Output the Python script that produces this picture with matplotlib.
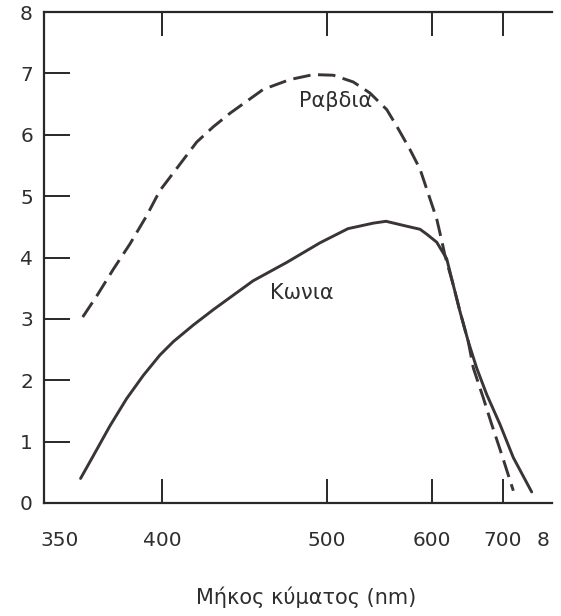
import numpy as np
import matplotlib
matplotlib.use("Agg")
import matplotlib.pyplot as plt
from matplotlib.ticker import NullLocator
from matplotlib.transforms import ScaledTranslation

plt.rcParams['font.family'] = ['DejaVu Sans']

# Wavelength axis is drawn on a non-linear (roughly reciprocal) scale:
# marked wavelengths and their relative spacing along the axis.
wl_marks = [350, 400, 500, 600, 700, 800]
wl_spacing = [0, 118, 283, 388, 459, 513]
x_tick_labels = ['350', '400', '500', '600', '700', '8']

# Cone (photopic) sensitivity curve
cone_wl = [365.5, 370.9, 378.0, 385.0, 392.1, 399.1, 406.9, 419.0, 431.1,
           455.2, 475.6, 495.8, 520.0, 544.1, 556.2, 575.9,
           588.6, 595.0, 606.6, 620.7, 630.0, 639.4, 651.1, 662.9, 677.0,
           695.8, 719.1, 753.1]
cone_val = [0.40, 0.77, 1.26, 1.70, 2.08, 2.41, 2.63, 2.90, 3.15,
            3.62, 3.92, 4.24, 4.47, 4.56, 4.59, 4.51,
            4.46, 4.38, 4.25, 3.98, 3.55, 3.12, 2.63, 2.20, 1.77,
            1.28, 0.74, 0.18]

# Rod (scotopic) sensitivity curve
rod_wl = [366.4, 372.3, 379.4, 386.4, 393.5, 399.1, 408.9, 421.0, 431.1,
          441.2, 461.4, 477.6, 491.7, 506.0, 525.0, 540.9, 556.9,
          566.4, 579.0, 588.6, 606.6, 613.6, 618.3, 630.0, 639.4,
          651.1, 658.2, 672.3, 684.1, 698.2, 719.1]
rod_val = [3.03, 3.37, 3.81, 4.22, 4.68, 5.09, 5.45, 5.88, 6.13,
           6.35, 6.74, 6.90, 6.98, 6.97, 6.86, 6.68, 6.41,
           6.14, 5.76, 5.44, 4.63, 4.28, 4.03, 3.55, 3.12,
           2.63, 2.20, 1.71, 1.28, 0.79, 0.20]


def fwd(x):
    return np.interp(x, wl_marks, wl_spacing)


def inv(p):
    return np.interp(p, wl_spacing, wl_marks)


ink = '#2b2727'
curve = '#3a3434'
txt = '#2e2e2e'

fig = plt.figure(figsize=(5.61, 6.16), dpi=100)
ax = fig.add_axes([44 / 561, 1 - 503 / 616, (557 - 44) / 561, (503 - 12) / 616])
ax.set_xscale('function', functions=(fwd, inv))
ax.set_xlim(350, 800)
ax.set_ylim(0, 8)

ax.plot(cone_wl, cone_val, color=curve, lw=2.1, solid_capstyle='round',
        solid_joinstyle='round')
ax.plot(rod_wl, rod_val, color=curve, lw=2.1, dashes=(6, 2.6),
        dash_capstyle='butt', dash_joinstyle='round')

ax.spines['right'].set_visible(False)
for s in ('left', 'bottom', 'top'):
    ax.spines[s].set_linewidth(1.6)
    ax.spines[s].set_color(ink)
ax.spines['bottom'].set_bounds(350, 790)
ax.spines['top'].set_bounds(350, 790)

ax.set_yticks(range(0, 9))
ax.tick_params(axis='y', direction='in', length=19, width=1.4, pad=8,
               labelsize=14.5, colors=ink, labelcolor=txt)
ax.set_xticks(wl_marks)
ax.set_xticklabels(x_tick_labels)
ax.xaxis.set_minor_locator(NullLocator())
ax.tick_params(axis='x', direction='in', length=17, width=1.4, pad=20,
               labelsize=14.5, colors=ink, labelcolor=txt, top=True)

xticks = ax.xaxis.get_major_ticks()
for t in (xticks[0], xticks[-1]):
    t.tick1line.set_visible(False)
    t.tick2line.set_visible(False)
xticks[0].label1.set_transform(xticks[0].label1.get_transform() +
                               ScaledTranslation(16 / 100, 0, fig.dpi_scale_trans))
xticks[-1].label1.set_transform(xticks[-1].label1.get_transform() +
                                ScaledTranslation(-14 / 100, 0, fig.dpi_scale_trans))
yticks = ax.yaxis.get_major_ticks()
yticks[0].tick1line.set_visible(False)
yticks[-1].tick1line.set_visible(False)

ax.text(0.569, 0.819, 'Ραβδια', transform=ax.transAxes, fontsize=15,
        color=txt, ha='center', va='center')
ax.text(0.503, 0.428, 'Κωνια', transform=ax.transAxes, fontsize=15,
        color=txt, ha='center', va='center')

fig.text(306 / 561, 1 - 597 / 616, 'Μήκος κύματος (nm)', fontsize=15,
         color=txt, ha='center', va='center')

fig.savefig('out.png', dpi=100)
